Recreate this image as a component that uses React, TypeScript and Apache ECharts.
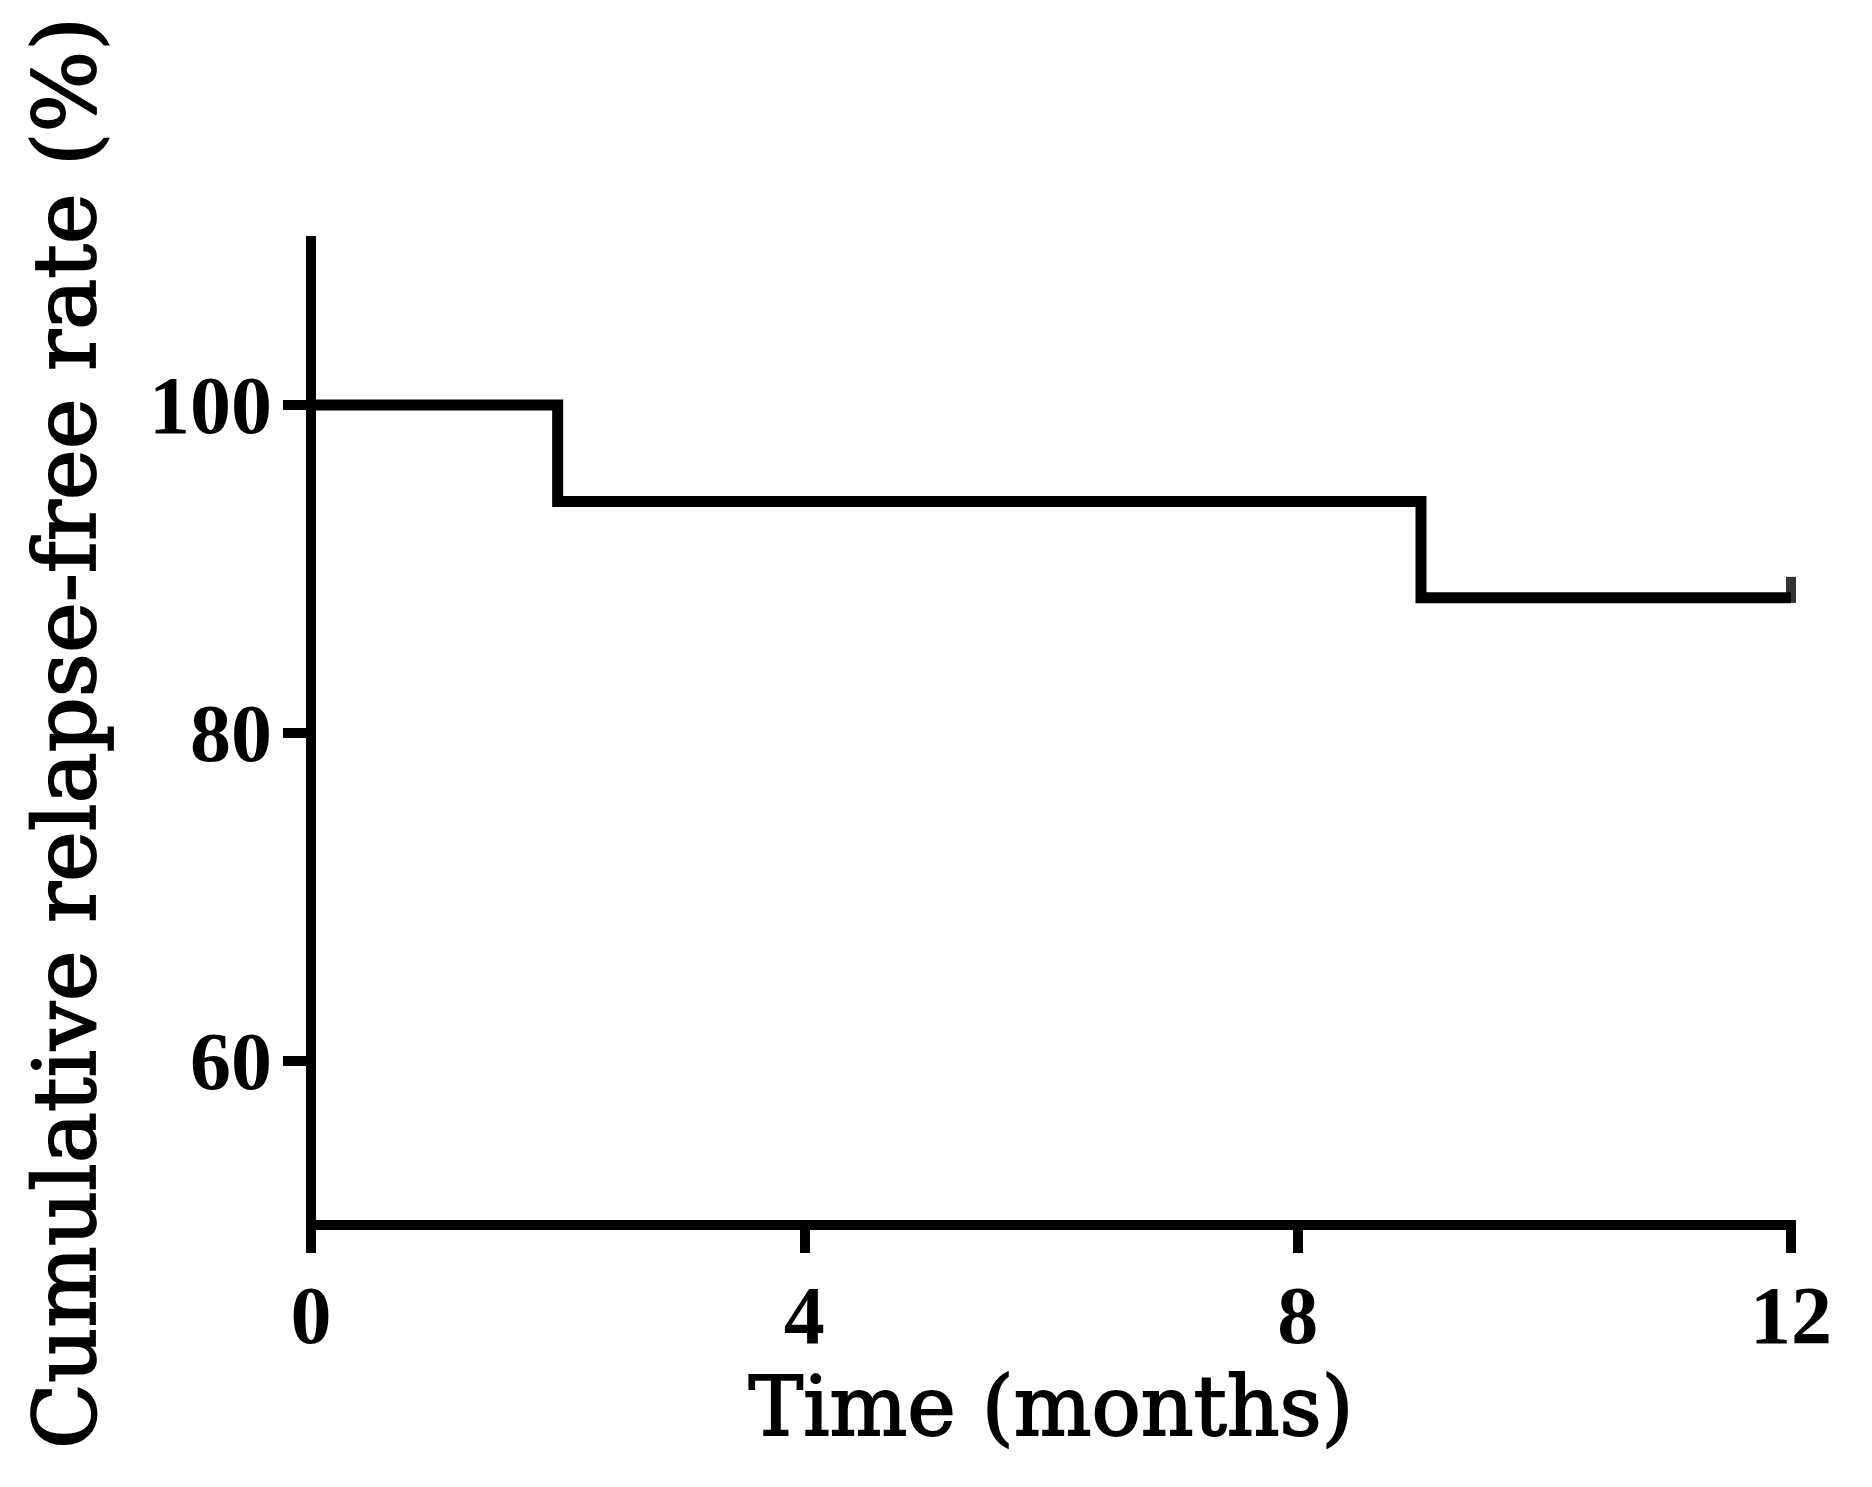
import React, { useEffect, useRef } from "react";
import * as echarts from "echarts";

const timeMonths = [0, 2, 9, 12];
const relapseFreePct = [100, 94.12, 88.24, 88.24];
const censorTimes = [12];
const censorPct = [88.24];
const yTickValues = [60, 80, 100];
const xAxisTitle = "Time (months)";
const yAxisTitle = "Cumulative relapse-free rate (%)";

export default function App() {
  const ref = useRef<HTMLDivElement>(null);
  useEffect(() => {
    if (!ref.current) return;
    const chart = echarts.init(ref.current, null, { renderer: "svg" });
    const tickFont = {
      fontFamily: "Liberation Serif",
      fontWeight: "bold" as const,
      fontSize: 82,
      color: "#000",
    };
    chart.setOption({
      animation: false,
      backgroundColor: "#fff",
      grid: { left: 311, right: 81, top: 241, bottom: 262 },
      xAxis: {
        type: "value",
        min: 0,
        max: 12,
        interval: 4,
        name: xAxisTitle,
        nameLocation: "middle",
        nameGap: 140,
        nameTextStyle: {
          fontFamily: "DejaVu Serif",
          fontWeight: "normal",
          fontSize: 82,
          color: "#000",
          textBorderColor: "#000",
          textBorderWidth: 1.8,
        },
        axisLine: { lineStyle: { color: "#000", width: 10, cap: "square" } },
        axisTick: { length: 28, lineStyle: { color: "#000", width: 10 } },
        axisLabel: { ...tickFont, margin: 49 },
        splitLine: { show: false },
      },
      yAxis: {
        type: "value",
        min: 50,
        max: 110,
        name: yAxisTitle,
        nameLocation: "middle",
        nameGap: 203,
        nameTextStyle: {
          fontFamily: "DejaVu Serif",
          fontWeight: "normal",
          fontSize: 86,
          color: "#000",
          textBorderColor: "#000",
          textBorderWidth: 1.8,
        },
        axisLine: { show: true, lineStyle: { color: "#000", width: 10, cap: "square" } },
        axisTick: {
          show: true,
          length: 28,
          customValues: yTickValues,
          lineStyle: { color: "#000", width: 10 },
        },
        axisLabel: { ...tickFont, margin: 39, customValues: yTickValues },
        splitLine: { show: false },
      },
      series: [
        {
          type: "line",
          step: "end",
          data: timeMonths.map((t, i) => [t, relapseFreePct[i]]),
          showSymbol: false,
          symbol: "none",
          lineStyle: { color: "#000", width: 11, join: "miter", cap: "butt" },
        },
        {
          type: "scatter",
          data: censorTimes.map((t, i) => [t, censorPct[i]]),
          symbol: "rect",
          symbolSize: [10, 26],
          symbolOffset: [0, -8],
          itemStyle: { color: "#000" },
        },
      ],
    });
    return () => chart.dispose();
  }, []);
  return (
    <div
      ref={ref}
      style={{ position: "absolute", left: 0, top: 0, width: 1872, height: 1487 }}
    />
  );
}
